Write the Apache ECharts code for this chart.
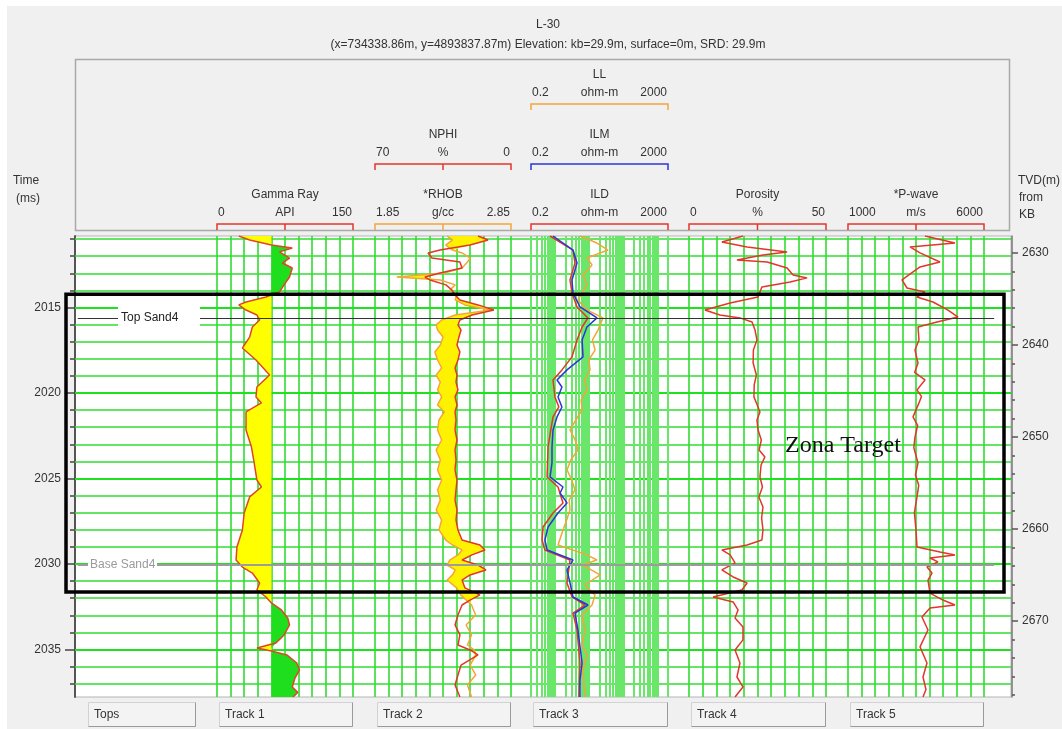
<!DOCTYPE html>
<html>
<head>
<meta charset="utf-8">
<title>L-30</title>
<script src="https://cdn.jsdelivr.net/npm/echarts@6/dist/echarts.min.js"></script>
<style>
  html, body { margin: 0; padding: 0; background: #fff; }
  #chart { width: 1062px; height: 729px; }
</style>
</head>
<body>
<div id="chart"></div>
<script>
// ---- depth reference (two-way time, ms) and TVD ----
const timeMin = 2010.82, timeMax = 2037.78;
const tvdMin = 2628.15, tvdMax = 2678.25;
const timeLabels = [2015, 2020, 2025, 2030, 2035];
const tvdLabels = [2630, 2640, 2650, 2660, 2670];

// ---- tops / zone ----
const topNames = ['Top Sand4', 'Base Sand4'];
const topTimes = [2015.61, 2030.06];
const zoneName = 'Zona Target';
const zoneTimes = [2014.23, 2031.64];

// ---- Track 1 : Gamma Ray (API) ----
const grCutoff = 60;
const grTime = [2010.82, 2011.05, 2011.35, 2011.52, 2011.75, 2012.11, 2012.40, 2012.69, 2013.22, 2013.68,
  2014.09, 2014.39, 2014.68, 2014.85, 2015.15, 2015.44, 2015.73, 2016.14, 2016.73, 2017.37,
  2018.07, 2018.95, 2019.65, 2020.23, 2020.58, 2021.11, 2022.16, 2023.16, 2024.09, 2025.09,
  2025.50, 2026.08, 2027.02, 2028.01, 2029.01, 2029.77, 2030.18, 2030.53, 2031.11, 2031.52,
  2031.93, 2032.28, 2032.69, 2033.16, 2033.57, 2034.15, 2034.62, 2034.91, 2035.09, 2035.32,
  2035.79, 2036.20, 2036.67, 2037.19, 2037.51, 2037.78];
const grApi = [24, 36, 60, 83, 69, 80, 72, 83, 80, 74,
  69, 54, 32, 24, 32, 44, 47, 39, 36, 28,
  43, 58, 44, 43, 49, 32, 32, 38, 41, 44,
  49, 36, 30, 28, 22, 21, 28, 39, 47, 44,
  54, 60, 71, 78, 80, 74, 65, 44, 60, 77,
  88, 91, 86, 83, 89, 84];

// ---- Track 2 : NPHI (%) and RHOB (g/cc) ----
const t2Time = [2010.82, 2011.05, 2011.35, 2011.64, 2011.81, 2012.11, 2012.34, 2012.69, 2012.98, 2013.22,
  2013.39, 2013.68, 2013.98, 2014.27, 2014.56, 2014.85, 2015.15, 2015.44, 2015.73, 2016.02,
  2016.32, 2016.73, 2017.19, 2017.60, 2018.07, 2018.54, 2018.95, 2019.36, 2019.82, 2020.23,
  2020.70, 2021.11, 2021.58, 2022.16, 2022.75, 2023.33, 2023.92, 2024.50, 2025.09, 2025.67,
  2026.26, 2026.84, 2027.43, 2028.01, 2028.60, 2028.89, 2029.18, 2029.47, 2029.77, 2030.06,
  2030.35, 2030.64, 2030.94, 2031.40, 2031.81, 2032.11, 2032.40, 2032.98, 2033.57, 2034.15,
  2034.74, 2035.03, 2035.32, 2035.91, 2036.49, 2037.08, 2037.78];
const nphi = [17.0, 11.8, 21.1, 36.5, 42.7, 40.7, 26.3, 25.2, 36.5, 44.3,
  41.7, 33.5, 30.4, 28.8, 26.3, 17.0, 8.8, 20.1, 26.3, 27.3,
  25.7, 26.8, 27.8, 26.3, 27.3, 28.8, 27.8, 28.3, 27.3, 28.8,
  27.8, 28.8, 28.3, 28.8, 27.8, 28.8, 28.3, 28.8, 27.8, 28.3,
  28.8, 27.8, 28.3, 27.3, 25.2, 16.0, 13.4, 20.1, 25.2, 17.0,
  12.9, 21.1, 25.2, 23.7, 16.0, 21.1, 25.2, 27.3, 28.8, 26.3,
  27.3, 21.1, 17.0, 25.7, 27.3, 28.8, 26.3];
const rhob = [2.38, 2.42, 2.37, 2.42, 2.49, 2.55, 2.53, 2.49, 2.36, 2.01,
  2.33, 2.44, 2.40, 2.45, 2.44, 2.51, 2.70, 2.44, 2.34, 2.30,
  2.31, 2.35, 2.33, 2.29, 2.31, 2.34, 2.30, 2.33, 2.31, 2.34,
  2.31, 2.36, 2.32, 2.31, 2.34, 2.30, 2.33, 2.31, 2.34, 2.31,
  2.33, 2.30, 2.34, 2.32, 2.37, 2.42, 2.49, 2.46, 2.40, 2.38,
  2.44, 2.42, 2.38, 2.45, 2.48, 2.52, 2.56, 2.59, 2.52, 2.56,
  2.53, 2.58, 2.59, 2.55, 2.59, 2.53, 2.56];

// ---- Track 3 : resistivity (ohm-m, log) ----
const llTime = [2010.82, 2011.23, 2011.64, 2012.11, 2012.51, 2013.10, 2013.68, 2014.56, 2015.15, 2015.61,
  2016.32, 2016.90, 2017.49, 2018.07, 2018.65, 2019.24, 2019.82, 2020.41, 2020.99, 2021.58,
  2022.16, 2022.75, 2023.33, 2023.92, 2024.50, 2025.09, 2025.67, 2026.26, 2026.84, 2027.43,
  2028.01, 2028.89, 2029.47, 2029.77, 2030.06, 2030.35, 2030.64, 2031.23, 2031.81, 2032.40,
  2032.98, 2033.86, 2034.74, 2035.32, 2036.20, 2037.78];
const ll = [5.4, 16.9, 35.4, 8.6, 12.1, 6.6, 8.6, 4.7, 8.6, 25.3,
  18.1, 12.5, 14.8, 9.8, 10.6, 7.4, 8.6, 5.8, 6.2, 4.1,
  2.75, 3.9, 4.7, 2.9, 2.25, 3.1, 3.85, 2.6, 2.75, 2.2,
  1.72, 1.23, 8.6, 16.9, 6.2, 11.5, 20.7, 7.5, 14.8, 12.1,
  6.2, 7.5, 6.2, 8.6, 6.6, 7.5];
const ilmTime = [2010.82, 2011.64, 2012.40, 2013.39, 2014.15, 2014.97, 2015.61, 2016.14, 2016.90, 2017.89,
  2018.65, 2019.24, 2019.65, 2020.23, 2020.82, 2021.40, 2022.16, 2023.16, 2024.09, 2024.91,
  2025.50, 2025.85, 2026.43, 2027.02, 2027.84, 2028.60, 2029.18, 2029.77, 2030.35, 2031.11,
  2031.93, 2032.40, 2032.87, 2033.86, 2034.85, 2035.79, 2036.78, 2037.78];
const ilm = [0.88, 3.37, 4.41, 3.15, 3.37, 5.4, 16.9, 8.6, 6.2, 6.6,
  2.25, 1.15, 1.6, 1.23, 1.6, 1.15, 0.88, 0.82, 0.82, 0.72,
  1.72, 1.41, 2.25, 1.23, 0.63, 0.51, 0.59, 3.37, 2.25, 2.75,
  3.37, 9.2, 3.85, 4.7, 5.4, 6.2, 5.4, 5.4];
const ildTime = [2010.82, 2011.64, 2012.40, 2013.39, 2014.15, 2014.97, 2015.61, 2016.14, 2016.90, 2017.89,
  2018.65, 2019.24, 2020.23, 2020.82, 2021.40, 2022.20, 2023.16, 2024.91, 2025.50, 2026.43,
  2027.02, 2027.84, 2028.60, 2029.18, 2029.77, 2031.11, 2031.93, 2032.40, 2032.87, 2033.86,
  2035.79, 2037.78];
const ild = [0.72, 3.37, 3.85, 2.75, 3.15, 4.41, 9.2, 6.2, 4.41, 3.15,
  1.6, 0.88, 1.0, 1.3, 0.88, 0.75, 0.63, 0.59, 1.23, 1.72,
  0.88, 0.45, 0.42, 0.51, 2.75, 2.25, 3.15, 7.5, 3.37, 4.41,
  5.4, 5.0];

// ---- Track 4 : Porosity (%) ----
const porTime = [2010.82, 2011.17, 2011.46, 2011.75, 2011.93, 2012.22, 2012.34, 2012.69, 2013.10, 2013.27,
  2013.51, 2013.80, 2014.39, 2014.74, 2015.15, 2015.44, 2015.61, 2015.85, 2016.32, 2016.90,
  2017.49, 2018.25, 2018.95, 2019.53, 2020.23, 2020.70, 2021.11, 2021.58, 2022.16, 2022.75,
  2023.33, 2023.74, 2024.21, 2024.91, 2025.50, 2026.08, 2026.67, 2027.31, 2028.01, 2028.60,
  2028.89, 2029.18, 2029.47, 2029.94, 2030.35, 2030.76, 2031.11, 2031.52, 2031.93, 2032.22,
  2032.69, 2033.16, 2033.68, 2034.44, 2035.03, 2035.79, 2036.61, 2037.19, 2037.78];
const porosity = [19.7, 12.0, 21.2, 35.8, 27.0, 17.5, 28.5, 35.8, 38.0, 43.1,
  36.9, 26.6, 25.2, 15.0, 5.8, 11.3, 18.6, 23.0, 24.1, 24.8,
  23.5, 23.4, 24.6, 23.8, 23.7, 24.9, 25.9, 24.8, 25.2, 26.4,
  25.6, 27.7, 26.3, 25.9, 26.8, 25.5, 27.0, 26.5, 27.0, 26.6,
  21.2, 12.0, 15.0, 16.8, 12.0, 16.1, 21.2, 19.3, 8.8, 16.1,
  17.9, 16.8, 19.7, 19.7, 16.8, 18.6, 17.5, 19.7, 16.8];

// ---- Track 5 : P-wave (m/s) ----
const pwTime = [2010.82, 2011.23, 2011.46, 2011.81, 2012.34, 2012.63, 2013.39, 2013.86, 2014.09, 2014.39,
  2014.68, 2015.15, 2015.56, 2015.85, 2016.14, 2016.90, 2017.49, 2018.25, 2018.80, 2019.24,
  2019.82, 2020.20, 2020.58, 2021.40, 2021.90, 2022.57, 2023.20, 2024.09, 2024.80, 2025.40,
  2026.08, 2027.00, 2028.01, 2029.01, 2029.30, 2029.47, 2029.65, 2029.88, 2030.18, 2030.53,
  2030.94, 2031.70, 2032.11, 2032.40, 2032.57, 2033.10, 2033.86, 2034.85, 2035.79, 2036.61,
  2037.34, 2037.78];
const pwave = [3830, 4933, 3279, 3647, 4382, 3647, 2985, 3169, 3830, 3537,
  4125, 4676, 5044, 4272, 3574, 3610, 3463, 3574, 3450, 3830,
  3537, 3700, 3610, 3390, 3560, 3463, 3420, 3574, 3480, 3600,
  3537, 3440, 3500, 3537, 4382, 4933, 4015, 4308, 3904, 4088,
  3941, 4015, 4492, 4933, 4015, 3720, 3941, 3647, 3904, 3757,
  3867, 3757];

// ---- layout / style ----
const FONT = '"Liberation Sans", Arial, sans-serif';
const GREEN = '#30dc30';
const RED = '#e4352a';
const ORANGE = '#f4a53a';
const BLUE = '#2b35d9';
const plotTop = 236, plotHeight = 461;
const trackBox = [[217, 136], [375, 136], [531, 137], [689, 137], [848, 136]];

const pts = (vals, times) => vals.map((v, i) => [v, times[i]]);

const minorTimes = [];
for (let t = Math.ceil(timeMin); t <= Math.floor(timeMax); t++) minorTimes.push(t);
const minorTvd = [];
for (let d = 2630; d <= tvdMax; d += 2) minorTvd.push(d);
const logLines = [];
for (let e = -1; e <= 3; e++) {
  for (let m = 1; m <= 9; m++) {
    const v = +(m * Math.pow(10, e)).toPrecision(3);
    if (v >= 0.2 && v <= 2000) logLines.push(v);
  }
}

const chart = echarts.init(document.getElementById('chart'));

function trackX(gridIndex, type, min, max, interval, inverse) {
  return {
    gridIndex, type, min, max, interval, inverse: !!inverse,
    axisLine: { show: false }, axisTick: { show: false }, axisLabel: { show: false },
    splitLine: { show: interval != null, lineStyle: { color: GREEN, width: 1.6 } }
  };
}
function trackY(gridIndex) {
  return { gridIndex, type: 'value', inverse: true, min: timeMin, max: timeMax, show: false };
}
function curve(name, xAxisIndex, yAxisIndex, values, times, color) {
  return {
    name, type: 'line', xAxisIndex, yAxisIndex, data: pts(values, times),
    showSymbol: false, symbol: 'none', silent: true, clip: true, z: 4,
    lineStyle: { color, width: 1.5 }
  };
}
// fill between a curve and a cutoff value (side -1: values below cutoff, +1: above)
function cutoffFill(values, times, cutoff, side, color) {
  return {
    type: 'custom', xAxisIndex: 1, yAxisIndex: 4, silent: true, z: 3,
    data: pts(values, times),
    renderItem(params, api) {
      if (params.dataIndex !== 0) return;
      const poly = [];
      times.forEach((t, i) => {
        const v = side < 0 ? Math.min(values[i], cutoff) : Math.max(values[i], cutoff);
        poly.push(api.coord([v, t]));
      });
      for (let i = times.length - 1; i >= 0; i--) poly.push(api.coord([cutoff, times[i]]));
      return { type: 'polygon', shape: { points: poly }, style: { fill: color } };
    }
  };
}
// density-neutron crossover fill, drawn on the RHOB axis
const nphiRange = [0, 70], rhobRange = [1.85, 2.85];
const nphiOnRhob = v => rhobRange[0] + (nphiRange[1] - v) / (nphiRange[1] - nphiRange[0]) * (rhobRange[1] - rhobRange[0]);
const crossFill = {
  type: 'custom', xAxisIndex: 3, yAxisIndex: 5, silent: true, z: 3,
  data: pts(rhob, t2Time),
  renderItem(params, api) {
    if (params.dataIndex !== 0) return;
    const poly = [];
    t2Time.forEach((t, i) => poly.push(api.coord([rhob[i], t])));
    for (let i = t2Time.length - 1; i >= 0; i--) {
      poly.push(api.coord([Math.max(rhob[i], nphiOnRhob(nphi[i])), t2Time[i]]));
    }
    return { type: 'polygon', shape: { points: poly }, style: { fill: '#fff200' } };
  }
};

const option = {
  animation: false,
  backgroundColor: '#f0f0f0',
  grid: [{ left: 75, top: plotTop, width: 936, height: plotHeight, show: true,
           backgroundColor: '#ffffff', borderColor: '#b4b4b4', borderWidth: 1 }]
    .concat(trackBox.map(([l, w]) => ({ left: l, top: plotTop, width: w, height: plotHeight }))),
  xAxis: [
    { gridIndex: 0, type: 'value', min: 0, max: 1, show: false },
    trackX(1, 'value', 0, 150, 15),
    trackX(2, 'value', nphiRange[0], nphiRange[1], 7, true),
    trackX(2, 'value', rhobRange[0], rhobRange[1], null),
    Object.assign(trackX(3, 'log', 0.2, 2000, null), { logBase: 10 }),
    trackX(4, 'value', 0, 50, 5),
    trackX(5, 'value', 1000, 6000, 500)
  ],
  yAxis: [
    { gridIndex: 0, type: 'value', inverse: true, min: timeMin, max: timeMax, position: 'left', offset: 1,
      axisLine: { show: true, lineStyle: { color: '#555', width: 2 } },
      axisTick: { show: true, customValues: timeLabels, length: 10, lineStyle: { color: '#444', width: 1.5 } },
      axisLabel: { show: true, customValues: timeLabels, margin: 13, color: '#333', fontSize: 12,
                   fontFamily: FONT, formatter: v => String(Math.round(v)) },
      splitLine: { show: false } },
    { gridIndex: 0, type: 'value', inverse: true, min: timeMin, max: timeMax, position: 'left', offset: 1,
      axisLine: { show: false },
      axisTick: { show: true, customValues: minorTimes, length: 4, lineStyle: { color: '#444', width: 1.5 } },
      axisLabel: { show: false }, splitLine: { show: false } },
    { gridIndex: 0, type: 'value', inverse: true, min: tvdMin, max: tvdMax, position: 'right', offset: 1,
      axisLine: { show: true, lineStyle: { color: '#777', width: 1.5 } },
      axisTick: { show: true, customValues: tvdLabels, length: 6, lineStyle: { color: '#555', width: 1.5 } },
      axisLabel: { show: true, customValues: tvdLabels, margin: 10, color: '#333', fontSize: 12,
                   fontFamily: FONT, formatter: v => String(Math.round(v)) },
      splitLine: { show: false } },
    { gridIndex: 0, type: 'value', inverse: true, min: tvdMin, max: tvdMax, position: 'right', offset: 1,
      axisLine: { show: false },
      axisTick: { show: true, customValues: minorTvd, length: 3, lineStyle: { color: '#555', width: 1.5 } },
      axisLabel: { show: false }, splitLine: { show: false } },
    trackY(1), trackY(2), trackY(3), trackY(4), trackY(5)
  ],
  series: [
    { type: 'line', xAxisIndex: 0, yAxisIndex: 0, data: [], silent: true, z: 1,
      markLine: { silent: true, z: 1, symbol: ['none', 'none'], label: { show: false },
        data: minorTimes.map(t => ({ yAxis: t,
          lineStyle: timeLabels.includes(t) ? { color: '#1fe21f', width: 2.2, type: 'solid' }
                                            : { color: GREEN, width: 1.5, type: 'solid' } })) } },
    { type: 'line', xAxisIndex: 4, yAxisIndex: 6, data: [], silent: true, z: 1,
      markLine: { silent: true, z: 1, symbol: ['none', 'none'], label: { show: false },
        lineStyle: { color: '#6ae66a', width: 2, type: 'solid' },
        data: logLines.map(v => ({ xAxis: v })) } },
    cutoffFill(grApi, grTime, grCutoff, -1, '#ffff00'),
    cutoffFill(grApi, grTime, grCutoff, 1, '#1ede1e'),
    curve('Gamma Ray', 1, 4, grApi, grTime, '#e0452a'),
    crossFill,
    curve('RHOB', 3, 5, rhob, t2Time, ORANGE),
    curve('NPHI', 2, 5, nphi, t2Time, RED),
    curve('LL', 4, 6, ll, llTime, ORANGE),
    curve('ILD', 4, 6, ild, ildTime, RED),
    curve('ILM', 4, 6, ilm, ilmTime, BLUE),
    curve('Porosity', 5, 7, porosity, porTime, RED),
    curve('P-wave', 6, 8, pwave, pwTime, RED),
    { type: 'line', xAxisIndex: 0, yAxisIndex: 0, data: [], silent: true, z: 10,
      markLine: { silent: true, z: 10, symbol: ['none', 'none'], label: { show: false },
        data: topTimes.map((t, i) => [
          { coord: [0.003, t], lineStyle: i === 0 ? { color: '#333', width: 1.2, type: 'solid' }
                                                  : { color: '#9c9c9c', width: 2, type: 'solid' } },
          { coord: [0.982, t] }]) } }
  ]
};
chart.setOption(option);

// ---- header, labels and annotations ----
const yOf = t => chart.convertToPixel({ yAxisIndex: 0 }, t);
const txt = (text, x, y, align, extra) => ({
  type: 'text', silent: true,
  style: Object.assign({ text, x, y, fill: '#333', font: '12px ' + FONT,
    align: align || 'center', textAlign: align || 'center',
    verticalAlign: 'middle', textVerticalAlign: 'middle' }, extra || {})
});
const line = (points, color, width, z) => ({
  type: 'polyline', silent: true, z: z || 0, shape: { points },
  style: { stroke: color, lineWidth: width || 1, fill: null }
});

const headers = [
  // track, row, name, lo, unit, hi, color, log
  [0, 0, 'Gamma Ray', '0', 'API', '150', RED, false],
  [1, 1, 'NPHI', '70', '%', '0', RED, false],
  [1, 0, '*RHOB', '1.85', 'g/cc', '2.85', ORANGE, false],
  [2, 2, 'LL', '0.2', 'ohm-m', '2000', ORANGE, true],
  [2, 1, 'ILM', '0.2', 'ohm-m', '2000', BLUE, true],
  [2, 0, 'ILD', '0.2', 'ohm-m', '2000', RED, true],
  [3, 0, 'Porosity', '0', '%', '50', RED, false],
  [4, 0, '*P-wave', '1000', 'm/s', '6000', RED, false]
];
const rowY = [224, 164, 104];

const els = [
  { type: 'rect', silent: true, shape: { x: 0, y: 0, width: 1062, height: 6 }, style: { fill: '#fff' } },
  { type: 'rect', silent: true, shape: { x: 0, y: 0, width: 7, height: 729 }, style: { fill: '#fff' } },
  { type: 'rect', silent: true, shape: { x: 75.5, y: 59.5, width: 934, height: 171 },
    style: { fill: null, stroke: '#a9a9a9', lineWidth: 1.5 } },
  txt('L-30', 548, 25),
  txt('(x=734338.86m, y=4893837.87m) Elevation: kb=29.9m, surface=0m, SRD: 29.9m', 548, 45),
  txt('Time', 26, 181), txt('(ms)', 28, 199),
  txt('TVD(m)', 1018, 181, 'left'), txt('from', 1019, 198, 'left'), txt('KB', 1019, 215, 'left')
];

headers.forEach(([k, row, name, lo, unit, hi, color, isLog]) => {
  const [l, w] = trackBox[k];
  const r = l + w, cx = l + w / 2, by = rowY[row];
  els.push(txt(name, cx, by - 29));
  els.push(txt(lo, l + 1, by - 11, 'left'));
  els.push(txt(unit, cx, by - 11));
  els.push(txt(hi, r - 1, by - 11, 'right'));
  els.push(line([[l, by + 6], [l, by], [r, by], [r, by + 6]], color, 1.5));
  if (!isLog) els.push(line([[cx, by], [cx, by + 6]], color, 1.5));
});

// bottom buttons
const buttons = [['Tops', 88, 107]].concat(trackBox.map(([l, w], i) => ['Track ' + (i + 1), l + 2, w - 3]));
buttons.forEach(([label, x, w]) => {
  els.push({ type: 'rect', silent: true, shape: { x: x + 0.5, y: 702.5, width: w, height: 24 },
             style: { fill: '#f3f3f3', stroke: '#d2d2d2', lineWidth: 1 } });
  els.push(line([[x + w + 0.5, 702.5], [x + w + 0.5, 726.5], [x + 0.5, 726.5]], '#9a9a9a', 1));
  els.push(txt(label, x + 6, 715, 'left'));
});

// tops labels
const yTop = yOf(topTimes[0]), yBase = yOf(topTimes[1]);
els.push({ type: 'rect', silent: true, z: 50, shape: { x: 118, y: yTop - 16, width: 82, height: 29 },
           style: { fill: '#fff' } });
els.push(Object.assign(txt(topNames[0], 121, yTop, 'left', { fill: '#222' }), { z: 51 }));
els.push({ type: 'rect', silent: true, z: 50, shape: { x: 88, y: yBase - 6, width: 69, height: 12 },
           style: { fill: '#fff' } });
els.push(Object.assign(txt(topNames[1], 90, yBase, 'left', { fill: '#9a9a9a' }), { z: 51 }));

// target zone box
const yZ0 = yOf(zoneTimes[0]), yZ1 = yOf(zoneTimes[1]);
els.push({ type: 'rect', silent: true, z: 60, shape: { x: 66, y: yZ0, width: 938, height: yZ1 - yZ0 },
           style: { fill: null, stroke: '#000', lineWidth: 3.5 } });
els.push(Object.assign(txt(zoneName, 785, 446, 'left',
  { fill: '#111', font: '24px "Liberation Serif", "Times New Roman", serif' }), { z: 61 }));

chart.setOption({ graphic: { elements: els } });
</script>
</body>
</html>
